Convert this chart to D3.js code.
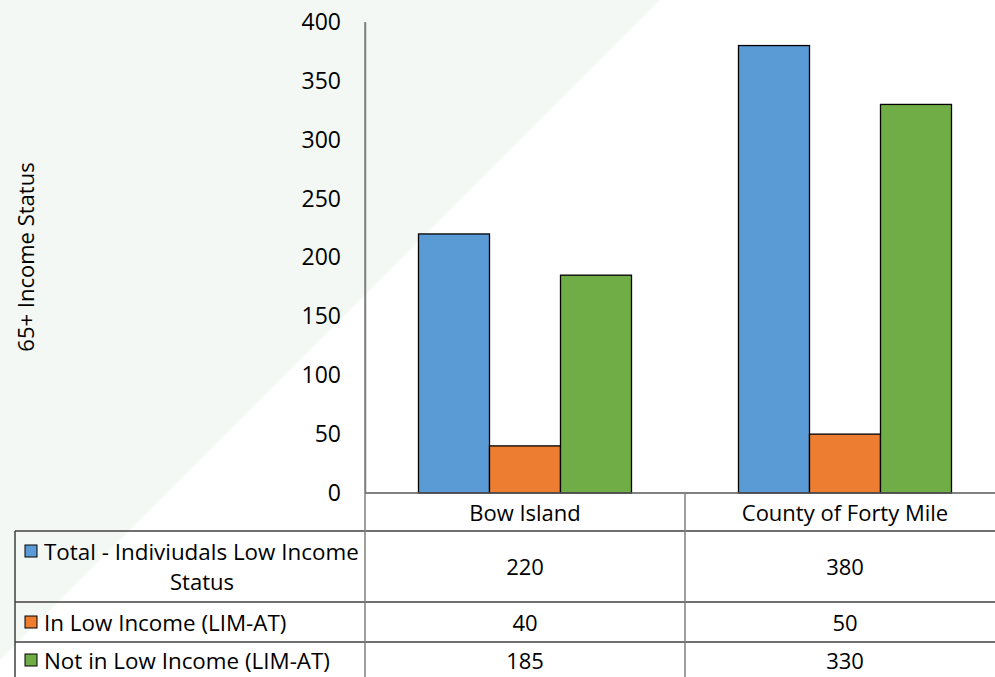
<!DOCTYPE html>
<html><head><meta charset="utf-8">
<script src="https://cdn.jsdelivr.net/npm/d3@7"></script>
<style>html,body{margin:0;padding:0;background:#fff;overflow:hidden}</style>
</head><body>
<script>
const categories = ["Bow Island", "County of Forty Mile"];
const seriesNames = ["Total - Indiviudals Low Income Status", "In Low Income (LIM-AT)", "Not in Low Income (LIM-AT)"];
const totalValues = [220, 380];
const inLowValues = [40, 50];
const notLowValues = [185, 330];
const yTicks = [0, 50, 100, 150, 200, 250, 300, 350, 400];
const axisTitle = "65+ Income Status";
const colors = ["#5B9BD5", "#ED7D31", "#70AD47"];
const series = [totalValues, inLowValues, notLowValues];

const W = 995, H = 677;
const svg = d3.select("body").append("svg").attr("width", W).attr("height", H);
const font = "'Open Sans', sans-serif";
const fs = 22;

svg.append("polygon").attr("points", "0,0 660,0 0,660").attr("fill", "#f3f8f4");

const x0 = 365, x1 = 1005, yTop = 22, yZero = 493;
const x = d3.scaleBand().domain(categories).range([x0, x1]).paddingInner(0).paddingOuter(0);
const y = d3.scaleLinear().domain([0, 400]).range([yZero, yTop]);
const groupW = 213;
const xs = d3.scaleBand().domain(d3.range(series.length)).range([0, groupW]);

// bars
categories.forEach((c, ci) => {
  series.forEach((s, si) => {
    const left = x(c) + (x.bandwidth() - groupW) / 2 + xs(si);
    svg.append("rect").attr("x", left).attr("y", y(s[ci]))
      .attr("width", xs.bandwidth()).attr("height", yZero - y(s[ci]))
      .attr("fill", colors[si]).attr("stroke", "#000").attr("stroke-width", 1.3);
  });
});

// y axis
const yAxis = d3.axisLeft(y).tickValues(yTicks).tickSize(0).tickPadding(24);
const ga = svg.append("g").attr("transform", `translate(${x0},0)`).call(yAxis);
ga.select(".domain").attr("stroke", "#7f7f7f").attr("stroke-width", 1.5);
ga.selectAll("text").attr("font-family", font).attr("font-size", 23).attr("fill", "#000");

svg.append("text").attr("transform", "translate(25,257) rotate(-90)")
  .attr("text-anchor", "middle").attr("dominant-baseline", "central")
  .attr("font-family", font).attr("font-size", fs).text(axisTitle);

// table
const tl = svg.append("g");
tl.append("line").attr("x1", x0).attr("x2", W).attr("y1", yZero).attr("y2", yZero).attr("stroke", "#595959").attr("stroke-width", 1.3);
[531, 602, 642].forEach(yy => {
  tl.append("line").attr("x1", 15).attr("x2", W).attr("y1", yy).attr("y2", yy).attr("stroke", "#404040").attr("stroke-width", 1.5);
});
tl.append("line").attr("x1", 15).attr("x2", 15).attr("y1", 531).attr("y2", H).attr("stroke", "#404040").attr("stroke-width", 1.5);
tl.append("line").attr("x1", x0).attr("x2", x0).attr("y1", yTop).attr("y2", H).attr("stroke", "#7f7f7f").attr("stroke-width", 1.5);
tl.append("line").attr("x1", x(categories[1])).attr("x2", x(categories[1])).attr("y1", yZero).attr("y2", H).attr("stroke", "#7f7f7f").attr("stroke-width", 1.5);

categories.forEach(c => {
  svg.append("text").attr("x", x(c) + x.bandwidth() / 2).attr("y", 512)
    .attr("text-anchor", "middle").attr("dominant-baseline", "central")
    .attr("font-family", font).attr("font-size", fs).text(c);
});

const rowCenters = [566, 622, 660];
series.forEach((s, si) => {
  categories.forEach((c, ci) => {
    svg.append("text").attr("x", x(c) + x.bandwidth() / 2).attr("y", rowCenters[si])
      .attr("text-anchor", "middle").attr("dominant-baseline", "central")
      .attr("font-family", font).attr("font-size", fs).text(s[ci]);
  });
});

// legend cells
const legendY = [551, 622, 660];
seriesNames.forEach((n, si) => {
  const ky = legendY[si];
  svg.append("rect").attr("x", 25).attr("y", ky - 6).attr("width", 12).attr("height", 12)
    .attr("fill", colors[si]).attr("stroke", "#000").attr("stroke-width", 1);
  let label = n;
  if (si === 0) {
    label = "Total - Indiviudals Low Income";
    svg.append("text").attr("x", 202).attr("y", 581).attr("text-anchor", "middle")
      .attr("dominant-baseline", "central").attr("font-family", font).attr("font-size", fs).text("Status");
  }
  svg.append("text").attr("x", 44).attr("y", ky).attr("dominant-baseline", "central")
    .attr("font-family", font).attr("font-size", 22.4).text(label);
});
</script>
</body></html>
